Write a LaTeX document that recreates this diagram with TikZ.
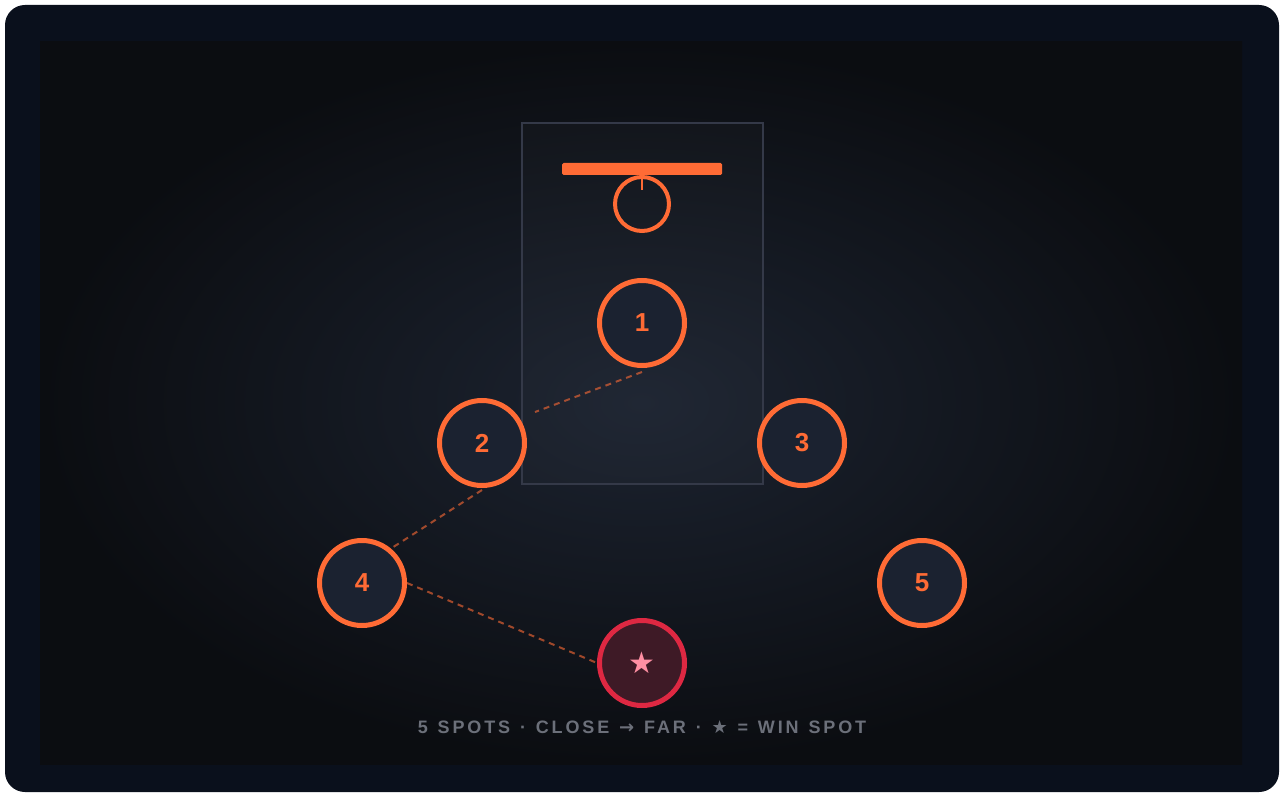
\documentclass[tikz,border=0pt]{standalone}
\usepackage{fontspec}
\setmainfont{Liberation Sans}
\newfontfamily\symfont{DejaVu Sans}
\newfontfamily\capfont{Liberation Sans}[LetterSpace=16, WordSpace=1.25]
\usepackage{xcolor}
\definecolor{FrameNavy}{RGB}{10,16,28}
\definecolor{BgCenter}{RGB}{28,35,48}
\definecolor{BgEdge}{RGB}{11,13,17}
\definecolor{CourtLine}{RGB}{52,57,72}
\definecolor{HoopOrange}{RGB}{255,107,53}
\definecolor{SpotFill}{RGB}{27,34,48}
\definecolor{WinRed}{RGB}{222,40,66}
\definecolor{WinFill}{RGB}{62,26,38}
\definecolor{WinStar}{RGB}{255,143,163}
\definecolor{CaptionGray}{RGB}{108,112,122}
\usepackage{tikz}
\usetikzlibrary{positioning, calc}
\tikzset{
  % Shooting spot
  spot/.style={
    circle, draw=HoopOrange, line width=5pt,
    fill=SpotFill,
    minimum size=85pt, inner sep=0pt,
    text=HoopOrange, font=\fontsize{26}{26}\selectfont\bfseries
  },
  % Winning spot variant
  spot win/.style={spot, draw=WinRed, fill=WinFill, text=WinStar,
    font=\fontsize{30}{30}\selectfont\symfont},
  % Dashed path between spots
  linkdash/.style={draw=HoopOrange, draw opacity=0.6, line width=2pt,
    dash pattern=on 6pt off 5pt},
  % Caption
  caption/.style={text=CaptionGray,
    font=\fontsize{18}{18}\selectfont\capfont\bfseries},
}

\begin{document}
\begin{tikzpicture}[x=1pt, y=-1pt]
  \useasboundingbox (0,0) rectangle (1281,794);

  %% Frame and background
  \fill[FrameNavy, rounded corners=20pt] (5,5) rectangle (1279,792);
  \shade[inner color=BgCenter, outer color=BgEdge] (40,42) rectangle (1242,764);

  %% Key area and hoop
  \draw[CourtLine, line width=2pt, fill=white, fill opacity=0.02] (522,123) rectangle (763,484);
  \fill[HoopOrange, rounded corners=1.5pt] (562,163) rectangle (722,175);
  \node[circle, draw=HoopOrange, line width=4pt, minimum size=54pt, inner sep=0pt]
    (rim) at (642,204) {};
  \draw[HoopOrange, line width=2pt] (642,175) -- (642,190);

  %% Spots
  \node[spot] (s1) at (642,323) {1};
  \node[spot] (s2) at (482,443) {2};
  \node[spot] (s3) at (802,443) {3};
  \node[spot] (s4) at (362,583) {4};
  \node[spot] (s5) at (922,583) {5};
  \node[spot win] (win) at (642,663) {★};

  %% Route
  \coordinate (bend12) at (535,412);
  \draw[linkdash] ([yshift=-4pt]s1.south) -- (bend12);
  \draw[linkdash] ([yshift=-2pt]s2.south) -- (s4.50);
  \draw[linkdash] (s4.east) -- (win.west);

  %% Caption
  \node[caption] (cap) at (642,727)
    {5 SPOTS · CLOSE {\symfont →} FAR · {\symfont ★} = WIN SPOT};

\end{tikzpicture}
\end{document}
